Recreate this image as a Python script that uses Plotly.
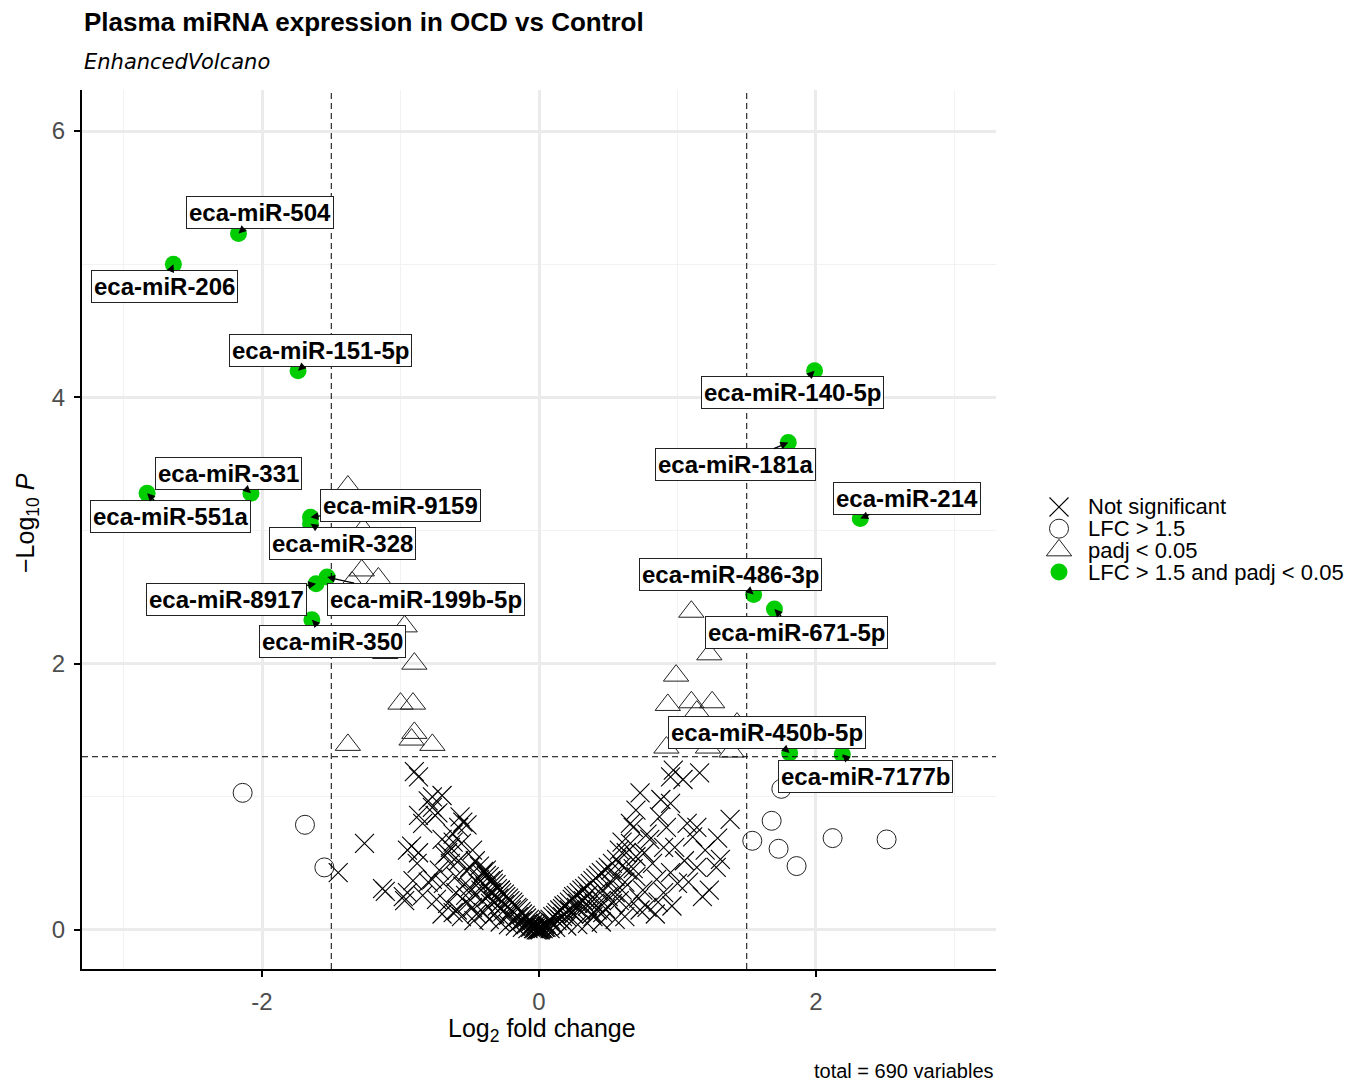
import plotly.graph_objects as go

# ---------------------------------------------------------------------------
# Volcano data: log2 fold change vs -log10(P) for plasma miRNAs (OCD vs Control)
# ---------------------------------------------------------------------------
FC_CUT = 1.5
P_CUT = 0.05
P_LINE = 1.301  # -log10(0.05)

# miRNAs passing both cut-offs (labelled)
sig_names = [
    "eca-miR-504", "eca-miR-206", "eca-miR-151-5p", "eca-miR-331",
    "eca-miR-551a", "eca-miR-9159", "eca-miR-328", "eca-miR-8917",
    "eca-miR-199b-5p", "eca-miR-350", "eca-miR-140-5p", "eca-miR-181a",
    "eca-miR-214", "eca-miR-486-3p", "eca-miR-671-5p", "eca-miR-450b-5p",
    "eca-miR-7177b",
]
sig_lfc = [-2.17, -2.64, -1.74, -2.08, -2.83, -1.65, -1.65, -1.61,
           -1.53, -1.64, 1.99, 1.80, 2.32, 1.55, 1.70, 1.81, 2.19]
sig_logp = [5.23, 5.00, 4.20, 3.28, 3.28, 3.10, 3.05, 2.60,
            2.65, 2.33, 4.20, 3.66, 3.09, 2.52, 2.41, 1.33, 1.32]

# padj < 0.05 only
padj_lfc = [-1.38, -1.27, -1.28, -1.16, -1.35, -0.97, -1.11, -0.90, -1.00,
            -0.91, -0.90, -0.92, -0.77, -1.38,
            1.10, 1.23, 0.99, 0.93, 1.10, 1.25, 1.14, 1.43, 0.92, 1.22,
            1.39, 1.05]
padj_logp = [3.33, 3.01, 2.70, 2.64, 2.61, 2.28, 2.08, 2.00, 1.70,
             1.70, 1.48, 1.43, 1.39, 1.39,
             2.39, 2.07, 1.91, 1.69, 1.71, 1.71, 1.64, 1.55, 1.37, 1.37,
             1.34, 1.47]

# |log2FC| > 1.5 only
fc_lfc = [-2.14, -1.69, -1.55, 1.75, 1.54, 1.68, 1.73, 1.86, 2.12, 2.51]
fc_logp = [1.03, 0.79, 0.47, 1.06, 0.67, 0.82, 0.61, 0.48, 0.69, 0.68]

# Not significant (log2FC, -log10 P)
not_sig = [
    (-1.45, 0.43), (-1.26, 0.65), (-1.13, 0.31), (-1.11, 0.29), (-0.98, 0.25),
    (-0.95, 0.28), (-0.97, 0.22), (-0.90, 1.19), (-0.87, 1.15), (-0.77, 1.00),
    (-0.70, 1.01), (-0.80, 0.97), (-0.87, 0.86), (-0.75, 0.86), (-0.77, 0.92),
    (-0.73, 0.88), (-0.55, 0.81), (-0.57, 0.85), (-0.58, 0.77), (-0.52, 0.79),
    (-0.95, 0.60), (-0.87, 0.58), (-0.88, 0.50), (-0.92, 0.63), (-0.64, 0.62),
    (-0.62, 0.66), (-0.56, 0.65), (-0.48, 0.60), (-0.66, 0.58), (-0.77, 0.38),
    (-0.80, 0.36), (-0.66, 0.20), (-0.59, 0.15), (-0.62, 0.13), (-0.50, 0.47),
    (-0.52, 0.44), (-0.43, 0.38), (-0.35, 0.28), (-0.52, 0.20), (-0.40, 0.13),
    (-0.50, 0.32), (-0.38, 0.45), (-0.33, 0.38), (-0.28, 0.30), (-0.48, 0.17),
    (-0.45, 0.12), (-0.46, 0.52), (-0.43, 0.48), (-0.41, 0.42), (-0.44, 0.35),
    (-0.42, 0.30), (-0.39, 0.33), (-0.36, 0.40), (-0.34, 0.28), (-0.37, 0.25),
    (-0.41, 0.22), (-0.35, 0.20), (-0.33, 0.22), (-0.30, 0.18), (-0.32, 0.12),
    (-0.29, 0.24), (-0.26, 0.14), (-0.25, 0.19), (-0.22, 0.11), (-0.20, 0.15),
    (-0.18, 0.08), (-0.15, 0.10), (-0.14, 0.06), (-0.12, 0.07), (-0.10, 0.04),
    (-0.08, 0.05), (-0.06, 0.02), (-0.05, 0.03), (-0.40, 0.44), (-0.38, 0.41),
    (-0.35, 0.37), (-0.33, 0.35), (-0.31, 0.34), (-0.30, 0.31), (-0.28, 0.30),
    (-0.27, 0.28), (-0.25, 0.27), (-0.24, 0.25), (-0.22, 0.24), (-0.21, 0.22),
    (-0.19, 0.21), (-0.18, 0.19), (-0.16, 0.17), (-0.15, 0.16), (-0.13, 0.14),
    (-0.12, 0.12), (-0.10, 0.11), (-0.09, 0.09), (-0.07, 0.08), (-0.06, 0.06),
    (-0.04, 0.05), (-0.03, 0.03), (-0.02, 0.02), (-0.01, 0.01), (-0.60, 0.40),
    (-0.64, 0.50), (-0.68, 0.56), (-0.70, 0.68), (-0.60, 0.28), (-0.69, 0.35),
    (-0.72, 0.45), (-0.84, 0.26), (-0.74, 0.23), (-0.70, 0.12), (-0.56, 0.10),
    (-0.55, 0.33), (-0.53, 0.26), (-0.47, 0.27), (-0.58, 0.52), (-0.62, 0.72),
    (-0.84, 0.80), (-0.91, 0.37), (-0.47, 0.07), (-0.36, 0.08), (-0.28, 0.06),
    (-0.22, 0.04), (-0.17, 0.03), (-0.12, 0.02), (-0.08, 0.01), (-0.04, 0.01),
    (-0.02, 0.00), (0.00, 0.00), (0.01, 0.00), (-0.01, 0.00), (0.02, 0.01),
    (0.03, 0.01), (-0.03, 0.01), (0.05, 0.02), (0.00, 0.01),
    (0.01, 0.01), (0.02, 0.02), (0.04, 0.04), (0.05, 0.05), (0.07, 0.07),
    (0.08, 0.08), (0.10, 0.10), (0.12, 0.11), (0.13, 0.13), (0.15, 0.15),
    (0.17, 0.16), (0.18, 0.18), (0.20, 0.19), (0.22, 0.21), (0.24, 0.23),
    (0.25, 0.25), (0.27, 0.26), (0.29, 0.28), (0.31, 0.30), (0.33, 0.31),
    (0.35, 0.33), (0.37, 0.35), (0.39, 0.37), (0.41, 0.39), (0.43, 0.41),
    (0.45, 0.43), (0.48, 0.45), (0.50, 0.47), (0.53, 0.50), (0.04, 0.02),
    (0.06, 0.03), (0.09, 0.05), (0.10, 0.05), (0.13, 0.07), (0.15, 0.08),
    (0.17, 0.10), (0.18, 0.12), (0.20, 0.10), (0.22, 0.15), (0.24, 0.13),
    (0.25, 0.12), (0.27, 0.17), (0.28, 0.20), (0.30, 0.15), (0.32, 0.22),
    (0.33, 0.24), (0.35, 0.18), (0.36, 0.27), (0.38, 0.12), (0.39, 0.10),
    (0.40, 0.20), (0.42, 0.15), (0.43, 0.29), (0.45, 0.22), (0.46, 0.13),
    (0.46, 0.30), (0.48, 0.16), (0.50, 0.25), (0.52, 0.35), (0.53, 0.20),
    (0.55, 0.28), (0.55, 0.40), (0.56, 0.53), (0.58, 0.22), (0.60, 0.30),
    (0.60, 0.48), (0.62, 0.36), (0.63, 0.58), (0.65, 0.19), (0.66, 0.65),
    (0.68, 0.46), (0.70, 0.40), (0.72, 0.24), (0.73, 0.15), (0.75, 0.30),
    (0.76, 0.58), (0.78, 0.17), (0.80, 0.68), (0.82, 0.50), (0.85, 0.38),
    (0.86, 0.21), (0.90, 0.28), (0.90, 0.62), (0.95, 0.43), (0.98, 0.62),
    (1.00, 0.35), (1.05, 0.52), (1.11, 0.70), (1.14, 0.47), (1.20, 0.60),
    (1.23, 0.30), (1.28, 0.47), (1.31, 0.53), (1.29, 0.69), (0.66, 0.80),
    (0.68, 0.77), (0.87, 0.85), (0.92, 0.77), (1.07, 0.80), (1.14, 0.77),
    (1.38, 0.83), (0.73, 1.03), (0.95, 0.95), (0.97, 1.20), (0.95, 1.15),
    (1.04, 1.13), (1.16, 1.18), (0.88, 0.98), (0.70, 0.90), (0.78, 0.72),
    (0.58, 0.60), (0.52, 0.45), (0.60, 0.66), (0.64, 0.45), (0.70, 0.55),
    (1.08, 0.36), (1.18, 0.25), (0.96, 0.18), (0.84, 0.12), (0.62, 0.10),
    (0.55, 0.08), (0.45, 0.06), (0.35, 0.05), (0.28, 0.04), (0.20, 0.03),
    (0.12, 0.02), (0.08, 0.01),
]
ns_lfc = [p[0] for p in not_sig]
ns_logp = [p[1] for p in not_sig]

TOTAL_VARIABLES = 690

# Legend entries
legend_labels = ["Not significant", "LFC > 1.5", "padj < 0.05",
                 "LFC > 1.5 and padj < 0.05"]

# Label placement (pixel offsets of each label box from its point)
label_offsets = {
    "eca-miR-504": (22, -21), "eca-miR-206": (-9, 22),
    "eca-miR-151-5p": (22, -20), "eca-miR-331": (-22, -20),
    "eca-miR-551a": (23, 23), "eca-miR-9159": (90, -12),
    "eca-miR-328": (32, 20), "eca-miR-8917": (-90, 16),
    "eca-miR-199b-5p": (99, 22), "eca-miR-350": (21, 22),
    "eca-miR-140-5p": (-22, 22), "eca-miR-181a": (-53, 22),
    "eca-miR-214": (47, -20), "eca-miR-486-3p": (-23, -20),
    "eca-miR-671-5p": (22, 23), "eca-miR-450b-5p": (-23, -20),
    "eca-miR-7177b": (23, 22),
}

FONT = "Liberation Sans, Arial, sans-serif"
GREEN = "#00CD00"
INK = "#222222"

W, H = 1372, 1084
ML, MR, MT, MB = 82, 10, 90, 115
PW = W - ML - MR
PH = H - MT - MB
PLOT_RIGHT = 996
x_dom_end = (PLOT_RIGHT - ML) / PW


def px_to_paper_x(px):
    return (px - ML) / PW


def px_to_paper_y(py):
    return (H - MB - py) / PH


marker_styles = [
    dict(symbol="x-thin-open", size=19, color="black",
         line=dict(width=1.1, color="rgba(0,0,0,0.9)")),
    dict(symbol="circle-open", size=19, color=INK, line=dict(width=1, color=INK)),
    dict(symbol="triangle-up-open", size=22, color=INK, line=dict(width=1, color=INK)),
    dict(symbol="circle", size=17, color=GREEN, line=dict(width=0)),
]

fig = go.Figure()

fig.add_trace(go.Scatter(x=ns_lfc, y=ns_logp, mode="markers",
                         marker=marker_styles[0], showlegend=False,
                         name=legend_labels[0]))
fig.add_trace(go.Scatter(x=fc_lfc, y=fc_logp, mode="markers",
                         marker=marker_styles[1], showlegend=False,
                         name=legend_labels[1]))
fig.add_trace(go.Scatter(x=padj_lfc, y=padj_logp, mode="markers",
                         marker=marker_styles[2], showlegend=False,
                         name=legend_labels[2]))
fig.add_trace(go.Scatter(x=sig_lfc, y=sig_logp, mode="markers",
                         marker=marker_styles[3], showlegend=False,
                         name=legend_labels[3], text=sig_names))

# Legend drawn on a small auxiliary axis pair to the right of the panel
legend_idx = list(range(len(legend_labels)))
for i, style in enumerate(marker_styles):
    fig.add_trace(go.Scatter(x=[19], y=[legend_idx[i]], mode="markers",
                             marker=style, xaxis="x2", yaxis="y2",
                             showlegend=False, hoverinfo="skip"))

annotations = []
for i, lab in enumerate(legend_labels):
    annotations.append(dict(x=46, y=legend_idx[i], xref="x2", yref="y2",
                            text=lab, showarrow=False, xanchor="left",
                            yanchor="middle",
                            font=dict(family=FONT, size=22, color="black")))

# Labelled points with connector arrows
for name, lx, ly in zip(sig_names, sig_lfc, sig_logp):
    ax, ay = label_offsets[name]
    annotations.append(dict(
        x=lx, y=ly, xref="x", yref="y", text="<b>" + name + "</b>",
        showarrow=True, ax=ax, ay=ay, arrowhead=2, arrowsize=1.2,
        arrowwidth=1.3, arrowcolor="black", standoff=0,
        bgcolor="white", bordercolor="#222222", borderwidth=1, borderpad=2,
        font=dict(family=FONT, size=24, color="black")))

# Titles and captions
annotations += [
    dict(x=0, y=px_to_paper_y(22), xref="paper", yref="paper",
         text="<b>Plasma miRNA expression in OCD vs Control</b>",
         showarrow=False, xanchor="left", yanchor="middle",
         font=dict(family=FONT, size=26, color="black")),
    dict(x=0, y=px_to_paper_y(62), xref="paper", yref="paper",
         text="<i>EnhancedVolcano</i>", showarrow=False,
         xanchor="left", yanchor="middle",
         font=dict(family="DejaVu Sans, sans-serif", size=21, color="black")),
    dict(x=px_to_paper_x(542), y=px_to_paper_y(1030), xref="paper", yref="paper",
         text="Log<sub>2</sub> fold change", showarrow=False,
         xanchor="center", yanchor="middle",
         font=dict(family=FONT, size=25, color="black")),
    dict(x=px_to_paper_x(27), y=px_to_paper_y(523), xref="paper", yref="paper",
         text="\u2212Log<sub>10</sub> <i>P</i>", showarrow=False, textangle=-90,
         xanchor="center", yanchor="middle",
         font=dict(family=FONT, size=25, color="black")),
    dict(x=x_dom_end, y=px_to_paper_y(1071), xref="paper", yref="paper",
         text=f"total = {TOTAL_VARIABLES} variables", showarrow=False,
         xanchor="right", yanchor="middle",
         font=dict(family=FONT, size=20, color="black")),
]

# Cut-off lines
shapes = [
    dict(type="line", xref="x", yref="y domain", x0=-FC_CUT, x1=-FC_CUT, y0=0, y1=1,
         line=dict(color="black", width=1, dash="6px,4px"), layer="above"),
    dict(type="line", xref="x", yref="y domain", x0=FC_CUT, x1=FC_CUT, y0=0, y1=1,
         line=dict(color="black", width=1, dash="6px,4px"), layer="above"),
    dict(type="line", xref="x domain", yref="y", x0=0, x1=1, y0=P_LINE, y1=P_LINE,
         line=dict(color="black", width=1, dash="6px,4px"), layer="above"),
]

axis_common = dict(
    showline=True, linecolor="black", linewidth=2, mirror=False,
    ticks="outside", ticklen=6, tickwidth=2, tickcolor="black",
    tickfont=dict(family=FONT, size=24, color="#4D4D4D"),
    showgrid=True, gridcolor="#EBEBEB", gridwidth=2.5, zeroline=False,
)

fig.update_layout(
    width=W, height=H,
    margin=dict(l=ML, r=MR, t=MT, b=MB, pad=0),
    paper_bgcolor="white", plot_bgcolor="white",
    showlegend=False,
    xaxis=dict(domain=[0, x_dom_end], range=[-3.3, 3.3],
               tickvals=[-2, 0, 2], ticktext=["-2", "0", "2"],
               ticklabelstandoff=4,
               minor=dict(tickvals=[-3, -1, 1, 3], showgrid=True,
                          gridcolor="#F2F2F2", gridwidth=1.2, ticks=""),
               **axis_common),
    yaxis=dict(domain=[0, 1], range=[-0.293, 6.308],
               tickvals=[0, 2, 4, 6], ticktext=["0", "2", "4", "6"],
               ticklabelstandoff=4,
               minor=dict(tickvals=[1, 3, 5], showgrid=True,
                          gridcolor="#F2F2F2", gridwidth=1.2, ticks=""),
               **axis_common),
    xaxis2=dict(domain=[px_to_paper_x(1040), 1.0], range=[0, 322],
                visible=False, anchor="y2", fixedrange=True),
    yaxis2=dict(domain=[px_to_paper_y(582.85), px_to_paper_y(496.15)],
                range=[3.5, -0.5], visible=False, anchor="x2", fixedrange=True),
    annotations=annotations,
    shapes=shapes,
)

fig.write_html("out.html")
